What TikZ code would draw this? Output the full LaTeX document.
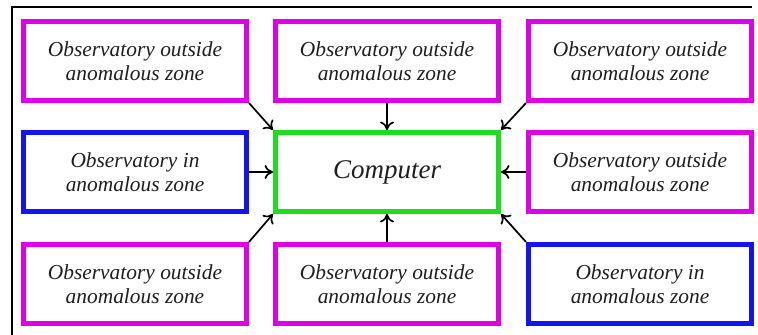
\documentclass[tikz,border=0pt]{standalone}
\usepackage{fontspec}
\setmainfont{Liberation Serif}
\usetikzlibrary{arrows.meta}
\definecolor{obsout}{RGB}{224,0,230}
\definecolor{obsin}{RGB}{20,20,240}
\definecolor{compgreen}{RGB}{30,220,30}
\definecolor{inktext}{RGB}{30,30,30}
\tikzset{
  obsbox/.style={draw, line width=2.5pt, minimum width=111.5pt, minimum height=39.5pt,
    align=center, inner sep=0pt, text=inktext,
    font=\fontsize{10.7}{12}\selectfont\itshape},
  outside/.style={obsbox, draw=obsout},
  inside/.style={obsbox, draw=obsin},
  compbox/.style={obsbox, draw=compgreen, font=\fontsize{13.5}{16}\selectfont\itshape},
  feed/.style={-{To[length=4.2pt,width=7pt]}, line width=0.85pt, black}
}
\begin{document}
\begin{tikzpicture}[x=0.5pt,y=-0.5pt]
  \useasboundingbox (0,0) rectangle (758,335);
  % frame around the scheme
  \draw[line width=0.8pt] (12,335) -- (12,7) -- (752,7);

  % observatories
  \node[outside] (tl) at (135,61)  {Observatory outside\\anomalous zone};
  \node[outside] (tm) at (387,61)  {Observatory outside\\anomalous zone};
  \node[outside] (tr) at (640,61)  {Observatory outside\\anomalous zone};
  \node[inside]  (ml) at (135,172) {Observatory in\\anomalous zone};
  \node[outside] (mr) at (640,172) {Observatory outside\\anomalous zone};
  \node[outside] (bl) at (135,284) {Observatory outside\\anomalous zone};
  \node[outside] (bm) at (387,284) {Observatory outside\\anomalous zone};
  \node[inside]  (br) at (640,284) {Observatory in\\anomalous zone};

  % central computer
  \node[compbox] (comp) at (387,172) {Computer};

  % data flow into the computer
  \draw[feed] (tl.south east) -- (comp.north west);
  \draw[feed] (tm.south) -- (comp.north);
  \draw[feed] (tr.south west) -- (comp.north east);
  \draw[feed] (ml.east) -- (comp.west);
  \draw[feed] (mr.west) -- (comp.east);
  \draw[feed] (bl.north east) -- (comp.south west);
  \draw[feed] (bm.north) -- (comp.south);
  \draw[feed] (br.north west) -- (comp.south east);
\end{tikzpicture}
\end{document}
